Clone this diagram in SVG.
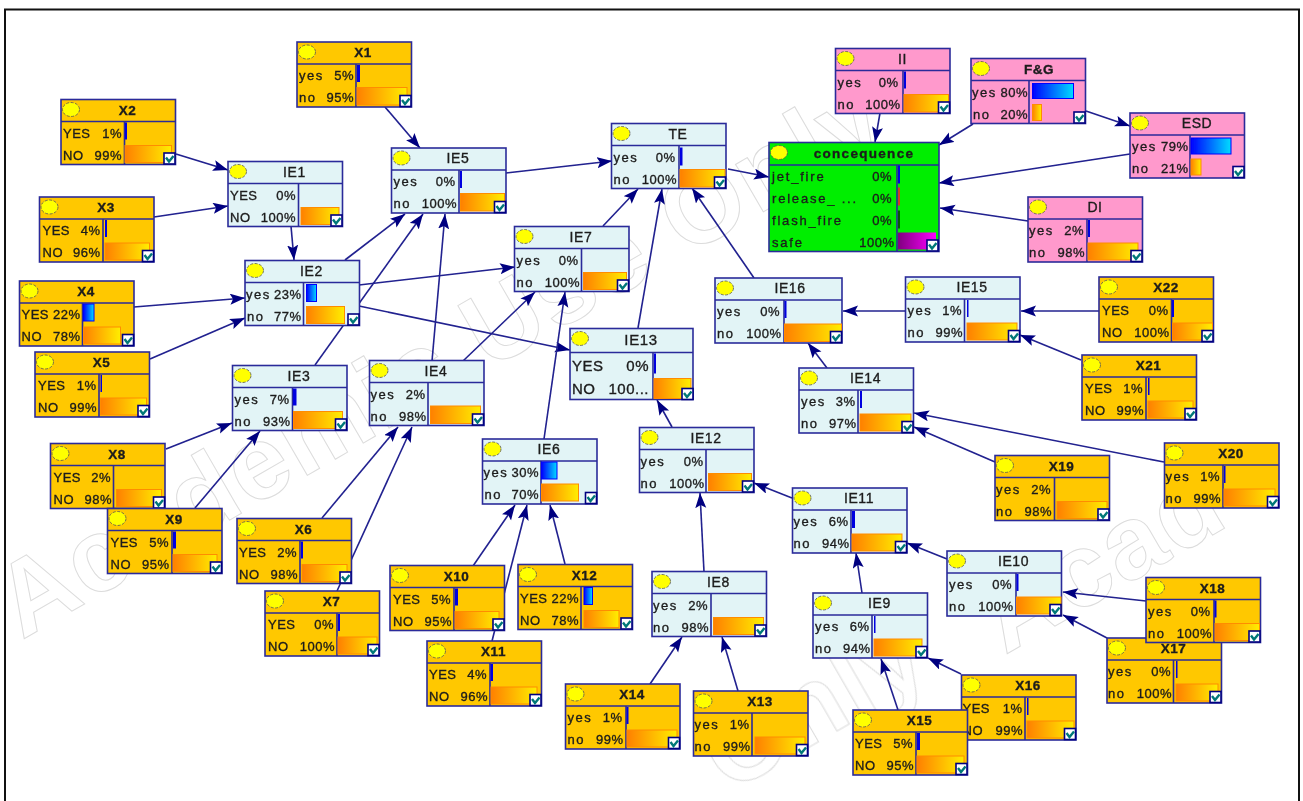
<svg xmlns="http://www.w3.org/2000/svg" width="1303" height="801" viewBox="0 0 1303 801">
<style>
text{font-family:"Liberation Sans",Arial,sans-serif;font-size:13px;fill:#1c1c1c;stroke:#1c1c1c;stroke-width:.35;letter-spacing:.5px}
.y{letter-spacing:1.5px}
.p{text-anchor:end}
.t{font-weight:bold;font-size:13.5px;text-anchor:middle}
.i{font-size:14px;text-anchor:middle;letter-spacing:.6px}
.b{stroke:#2a2a9a;stroke-width:1.6}
.o{fill:#ffc800}.e{fill:#e2f4f6}.k{fill:#ff99cc}.g{fill:#00ee00}
.lb{fill:#0000e0}
.bb{fill:url(#gb);stroke:#0000ff;stroke-width:1}
.ob{fill:url(#go);stroke:#ff8c00;stroke-width:1}
#edges line{stroke:#20208f;stroke-width:1.6;marker-end:url(#arr)}
.wm text{font-size:104px;font-weight:bold;fill:none;stroke:#dcdcdc;stroke-width:1;letter-spacing:2px}
</style>
<defs>
<linearGradient id="go"><stop offset="0" stop-color="#ff8000"/><stop offset="1" stop-color="#ffee00"/></linearGradient>
<linearGradient id="gb"><stop offset="0" stop-color="#0000ff"/><stop offset="1" stop-color="#00ddff"/></linearGradient>
<linearGradient id="gp"><stop offset="0" stop-color="#800080"/><stop offset="1" stop-color="#ff00ff"/></linearGradient>
<marker id="arr" markerUnits="userSpaceOnUse" markerWidth="16" markerHeight="12" refX="15" refY="5.500" orient="auto"><path d="M0 0L15 5.500L0 11L3 5.500z" fill="#000080"/></marker>
<filter id="soft" filterUnits="userSpaceOnUse" x="0" y="0" width="1303" height="801"><feGaussianBlur stdDeviation="0.45"/></filter>
<g id="ind"><ellipse cx="10" cy="10" rx="8.500" ry="7" fill="#ffff00" stroke="#555" stroke-width=".8" stroke-dasharray="3 1.500"/></g>
<g id="chk"><rect x="0" y="0" width="11" height="11" fill="#fff" stroke="#000080" stroke-width="1.600"/><path d="M2 4.500L5 8.500L9.500 3" fill="none" stroke="#007878" stroke-width="2.400"/></g>
<g id="fo"><rect class="o b" width="114.500" height="65"/><path class="b" d="M0 22H114.500" fill="none"/><use href="#ind"/></g>
<g id="fe"><rect class="e b" width="114.500" height="65"/><path class="b" d="M0 22H114.500" fill="none"/><use href="#ind"/></g>
<g id="fk"><rect class="k b" width="114.500" height="65"/><path class="b" d="M0 22H114.500" fill="none"/><use href="#ind"/></g>
<use id="c" href="#chk" x="103" y="53.500"/>
</defs>
<rect width="1303" height="801" fill="#fff"/>
<path d="M5 801V9.500H1299V801" fill="none" stroke="#111" stroke-width="2"/>
<g filter="url(#soft)">
<g class="wm">
<text transform="translate(22,640) rotate(-30)">Academic Use Only</text>
<text transform="translate(728,794) rotate(-30)">Only</text>
<text transform="translate(1005,655) rotate(-30)">Acad</text>
</g>
<g id="edges">
<line x1="385" y1="107" x2="420" y2="148"/>
<line x1="176" y1="154" x2="228" y2="170"/>
<line x1="154" y1="217" x2="228" y2="206"/>
<line x1="291" y1="226" x2="294" y2="260"/>
<line x1="345" y1="260" x2="405" y2="214"/>
<line x1="359" y1="285" x2="515" y2="267"/>
<line x1="359" y1="306" x2="570" y2="350"/>
<line x1="315" y1="365" x2="423" y2="214"/>
<line x1="432" y1="361" x2="445" y2="214"/>
<line x1="463" y1="361" x2="535" y2="292"/>
<line x1="544" y1="439" x2="565" y2="292"/>
<line x1="638" y1="328" x2="662" y2="189"/>
<line x1="603" y1="226" x2="638" y2="189"/>
<line x1="754" y1="278" x2="692" y2="188"/>
<line x1="506" y1="173" x2="612" y2="161"/>
<line x1="728" y1="169" x2="769" y2="177"/>
<line x1="880" y1="113" x2="875" y2="142"/>
<line x1="973" y1="124" x2="939" y2="145"/>
<line x1="1086" y1="111" x2="1130" y2="126"/>
<line x1="1130" y1="154" x2="939" y2="183"/>
<line x1="1028" y1="221" x2="940" y2="208"/>
<line x1="134" y1="307" x2="245" y2="298"/>
<line x1="150" y1="359" x2="245" y2="318"/>
<line x1="166" y1="449" x2="232" y2="423"/>
<line x1="195" y1="508" x2="260" y2="431"/>
<line x1="322" y1="518" x2="398" y2="427"/>
<line x1="337" y1="591" x2="412" y2="427"/>
<line x1="473" y1="566" x2="515" y2="505"/>
<line x1="492" y1="641" x2="527" y2="505"/>
<line x1="565" y1="564" x2="550" y2="505"/>
<line x1="704" y1="572" x2="700" y2="493"/>
<line x1="650" y1="684" x2="682" y2="637"/>
<line x1="738" y1="691" x2="722" y2="637"/>
<line x1="792" y1="498" x2="754" y2="483"/>
<line x1="906" y1="311" x2="843" y2="311"/>
<line x1="1099" y1="311" x2="1021" y2="311"/>
<line x1="1081" y1="360" x2="1020" y2="335"/>
<line x1="827" y1="368" x2="808" y2="343"/>
<line x1="1164" y1="462" x2="914" y2="413"/>
<line x1="995" y1="462" x2="914" y2="427"/>
<line x1="947" y1="559" x2="907" y2="543"/>
<line x1="862" y1="593" x2="856" y2="553"/>
<line x1="961" y1="674" x2="928" y2="658"/>
<line x1="898" y1="710" x2="881" y2="659"/>
<line x1="1146" y1="601" x2="1063" y2="592"/>
<line x1="1107" y1="638" x2="1063" y2="615"/>
<line x1="672" y1="427" x2="657" y2="400"/>
</g>
<g id="X1" transform="translate(297,42)"><use href="#fo"/><path class="b" d="M59 22V65"/><rect class="lb" x="60" y="23" width="3" height="17"/><rect class="ob" x="60" y="45.500" width="50" height="17.500"/><use href="#c"/><text class="t" x="66" y="15">X1</text><text y="38"><tspan class="y" x="2">yes</tspan> <tspan class="p" x="57">5%</tspan></text><text y="60"><tspan class="y" x="2">no</tspan> <tspan class="p" x="57">95%</tspan></text></g>
<g id="X2" transform="translate(61,99.500)"><use href="#fo"/><path class="b" d="M63.500 22V65"/><rect class="lb" x="64" y="23" width="2" height="17"/><rect class="ob" x="64" y="46" width="46.500" height="17"/><use href="#c"/><text class="t" x="66.500" y="15">X2</text><text y="38"><tspan x="2">YES</tspan> <tspan class="p" x="61">1%</tspan></text><text y="60"><tspan x="2">NO</tspan> <tspan class="p" x="61">99%</tspan></text></g>
<g id="X3" transform="translate(39.500,197)"><use href="#fo"/><path class="b" d="M63.500 22V65"/><rect class="lb" x="65.500" y="23" width="2" height="17"/><rect class="ob" x="65.500" y="46" width="44.500" height="17"/><use href="#c"/><text class="t" x="66.500" y="15">X3</text><text y="38"><tspan x="3">YES</tspan> <tspan class="p" x="61">4%</tspan></text><text y="60"><tspan x="3">NO</tspan> <tspan class="p" x="61">96%</tspan></text></g>
<g id="IE1" transform="translate(228,161.500)"><use href="#fe"/><path class="b" d="M70.500 22V65"/><rect class="ob" x="73" y="46" width="38" height="17"/><use href="#c"/><text class="i" x="66.500" y="15">IE1</text><text y="38"><tspan x="2">YES</tspan> <tspan class="p" x="68">0%</tspan></text><text y="60"><tspan x="2">NO</tspan> <tspan class="p" x="68">100%</tspan></text></g>
<g id="IE5" transform="translate(391.500,148)"><use href="#fe"/><path class="b" d="M67.500 22V65"/><rect class="lb" x="68.500" y="23" width="2" height="17"/><rect class="ob" x="69" y="45.500" width="44" height="17.500"/><use href="#c"/><text class="i" x="66.500" y="15">IE5</text><text y="38"><tspan class="y" x="2">yes</tspan> <tspan class="p" x="64">0%</tspan></text><text y="60"><tspan class="y" x="2">no</tspan> <tspan class="p" x="65.500">100%</tspan></text></g>
<g id="TE" transform="translate(611.500,123.500)"><use href="#fe"/><path class="b" d="M67.500 22V65"/><rect class="lb" x="68.500" y="24" width="2.500" height="18"/><rect class="ob" x="68.500" y="46" width="45" height="17.500"/><use href="#c"/><text class="i" x="66.500" y="15">TE</text><text y="38"><tspan class="y" x="2">yes</tspan> <tspan class="p" x="64">0%</tspan></text><text y="60"><tspan class="y" x="2">no</tspan> <tspan class="p" x="65.500">100%</tspan></text></g>
<g id="IE7" transform="translate(514.500,226.500)"><use href="#fe"/><path class="b" d="M67 22V65"/><rect class="ob" x="69" y="46" width="43" height="17"/><use href="#c"/><text class="i" x="66.500" y="15">IE7</text><text y="38"><tspan class="y" x="2">yes</tspan> <tspan class="p" x="64">0%</tspan></text><text y="60"><tspan class="y" x="2">no</tspan> <tspan class="p" x="65.500">100%</tspan></text></g>
<g id="IE2" transform="translate(245,260.500)"><use href="#fe"/><path class="b" d="M58.500 22V65"/><rect class="bb" x="61.500" y="24" width="10" height="17"/><rect class="ob" x="61.500" y="46" width="38" height="17"/><use href="#c"/><text class="i" x="66.500" y="15">IE2</text><text y="38"><tspan class="y" x="1">yes</tspan><tspan class="p" x="56.500">23%</tspan></text><text y="60"><tspan class="y" x="2">no</tspan> <tspan class="p" x="56.500">77%</tspan></text></g>
<g id="X4" transform="translate(19.500,281)"><use href="#fo"/><path class="b" d="M63 22V65"/><rect class="bb" x="64" y="23" width="10.500" height="17"/><rect class="ob" x="64" y="46" width="37" height="17"/><use href="#c"/><text class="t" x="66.500" y="15">X4</text><text y="38"><tspan x="2">YES</tspan> <tspan class="p" x="61">22%</tspan></text><text y="60"><tspan x="2">NO</tspan> <tspan class="p" x="61">78%</tspan></text></g>
<g id="X5" transform="translate(35,352)"><use href="#fo"/><path class="b" d="M64 22V65"/><rect class="lb" x="65.500" y="23" width="1.500" height="17"/><rect class="ob" x="65.500" y="46" width="46" height="17"/><use href="#c"/><text class="t" x="66.500" y="15">X5</text><text y="38"><tspan x="3">YES</tspan> <tspan class="p" x="61.500">1%</tspan></text><text y="60"><tspan x="3">NO</tspan> <tspan class="p" x="62">99%</tspan></text></g>
<g id="IE3" transform="translate(232.500,365.500)"><use href="#fe"/><path class="b" d="M60 22V65"/><rect class="lb" x="60.500" y="23" width="3.500" height="17"/><rect class="ob" x="61" y="46" width="49" height="17"/><use href="#c"/><text class="i" x="66.500" y="15">IE3</text><text y="38"><tspan class="y" x="2">yes</tspan> <tspan class="p" x="57">7%</tspan></text><text y="60"><tspan class="y" x="2">no</tspan> <tspan class="p" x="58">93%</tspan></text></g>
<g id="IE4" transform="translate(369.500,360.500)"><use href="#fe"/><path class="b" d="M58.500 22V65"/><rect class="ob" x="61" y="45.500" width="50" height="17.500"/><use href="#c"/><text class="i" x="66.500" y="15">IE4</text><text y="38"><tspan class="y" x="1">yes</tspan> <tspan class="p" x="56">2%</tspan></text><text y="60"><tspan class="y" x="1">no</tspan> <tspan class="p" x="57">98%</tspan></text></g>
<g id="X8" transform="translate(50.500,443.500)"><use href="#fo"/><path class="b" d="M63 22V65"/><rect class="ob" x="66" y="46" width="45" height="17"/><use href="#c"/><text class="t" x="66.500" y="15">X8</text><text y="38"><tspan x="3">YES</tspan> <tspan class="p" x="60.500">2%</tspan></text><text y="60"><tspan x="3">NO</tspan> <tspan class="p" x="61.500">98%</tspan></text></g>
<g id="X9" transform="translate(107.500,508.500)"><use href="#fo"/><path class="b" d="M64.500 22V65"/><rect class="lb" x="65.500" y="23" width="3" height="17"/><rect class="ob" x="65.500" y="46" width="44" height="17"/><use href="#c"/><text class="t" x="66.500" y="15">X9</text><text y="38"><tspan x="3">YES</tspan> <tspan class="p" x="61.500">5%</tspan></text><text y="60"><tspan x="3">NO</tspan> <tspan class="p" x="62">95%</tspan></text></g>
<g id="X6" transform="translate(237,518.500)"><use href="#fo"/><path class="b" d="M63 22V65"/><rect class="lb" x="64" y="23" width="2" height="17"/><rect class="ob" x="65" y="46" width="45" height="17"/><use href="#c"/><text class="t" x="66.500" y="15">X6</text><text y="38"><tspan x="2">YES</tspan> <tspan class="p" x="60">2%</tspan></text><text y="60"><tspan x="2">NO</tspan> <tspan class="p" x="61">98%</tspan></text></g>
<g id="X7" transform="translate(265,591)"><use href="#fo"/><path class="b" d="M72 22V65"/><rect class="lb" x="73" y="23" width="2" height="17"/><rect class="ob" x="73" y="46" width="39" height="17"/><use href="#c"/><text class="t" x="66.500" y="15">X7</text><text y="38"><tspan x="3">YES</tspan> <tspan class="p" x="69">0%</tspan></text><text y="60"><tspan x="3">NO</tspan> <tspan class="p" x="70">100%</tspan></text></g>
<g id="IE6" transform="translate(482.500,439)"><use href="#fe"/><path class="b" d="M58.500 22V65"/><rect class="bb" x="59" y="23" width="15.500" height="17"/><rect class="ob" x="59" y="45" width="37" height="17"/><use href="#c"/><text class="i" x="66.500" y="15">IE6</text><text y="38"><tspan class="y" x="1">yes</tspan><tspan class="p" x="56.500">30%</tspan></text><text y="60"><tspan class="y" x="2">no</tspan> <tspan class="p" x="56.500">70%</tspan></text></g>
<g id="IE12" transform="translate(639.500,427.500)"><use href="#fe"/><path class="b" d="M66.500 22V65"/><rect class="ob" x="69" y="46" width="43" height="17"/><use href="#c"/><text class="i" x="66.500" y="15">IE12</text><text y="38"><tspan class="y" x="1">yes</tspan> <tspan class="p" x="64">0%</tspan></text><text y="60"><tspan class="y" x="1">no</tspan> <tspan class="p" x="65">100%</tspan></text></g>
<g id="X10" transform="translate(390,565.500)"><use href="#fo"/><path class="b" d="M64 22V65"/><rect class="lb" x="65" y="23" width="3" height="17"/><rect class="ob" x="65" y="46" width="44" height="17"/><use href="#c"/><text class="t" x="66.500" y="15">X10</text><text y="38"><tspan x="3">YES</tspan> <tspan class="p" x="61">5%</tspan></text><text y="60"><tspan x="3">NO</tspan> <tspan class="p" x="62">95%</tspan></text></g>
<g id="X11" transform="translate(427,641)"><use href="#fo"/><path class="b" d="M63 22V65"/><rect class="lb" x="63.500" y="23" width="2.500" height="17"/><rect class="ob" x="64" y="46" width="46" height="17"/><use href="#c"/><text class="t" x="66.500" y="15">X11</text><text y="38"><tspan x="2">YES</tspan> <tspan class="p" x="60">4%</tspan></text><text y="60"><tspan x="2">NO</tspan> <tspan class="p" x="61">96%</tspan></text></g>
<g id="X12" transform="translate(518,564.500)"><use href="#fo"/><path class="b" d="M63 22V65"/><rect class="bb" x="66" y="23" width="8.500" height="17"/><rect class="ob" x="66" y="46" width="35" height="17"/><use href="#c"/><text class="t" x="66.500" y="15">X12</text><text y="38"><tspan x="2">YES</tspan> <tspan class="p" x="61">22%</tspan></text><text y="60"><tspan x="2">NO</tspan> <tspan class="p" x="61">78%</tspan></text></g>
<g id="IE13" transform="translate(570,328.500)"><rect class="e b" width="123" height="71"/><path class="b" d="M0 24H123" fill="none"/><use href="#ind"/><path class="b" d="M83 24V71"/><rect class="lb" x="84" y="25" width="2" height="20"/><rect class="ob" x="84" y="50" width="37" height="20"/><use href="#chk" x="112" y="60"/><text class="i" style="font-size:15px" x="71" y="16">IE13</text><text style="font-size:15px" y="42"><tspan x="2">YES</tspan> <tspan class="p" x="79">0%</tspan></text><text style="font-size:15px" y="65"><tspan x="2">NO</tspan> <tspan class="p" x="79">100...</tspan></text></g>
<g id="IE8" transform="translate(652,571.500)"><use href="#fe"/><path class="b" d="M59 22V65"/><rect class="ob" x="61.500" y="46" width="50" height="17"/><use href="#c"/><text class="i" x="66.500" y="15">IE8</text><text y="38"><tspan class="y" x="1">yes</tspan> <tspan class="p" x="56">2%</tspan></text><text y="60"><tspan class="y" x="1">no</tspan> <tspan class="p" x="57">98%</tspan></text></g>
<g id="X14" transform="translate(565.500,684)"><use href="#fo"/><path class="b" d="M60.500 22V65"/><rect class="lb" x="61" y="23" width="2" height="17"/><rect class="ob" x="61.500" y="46" width="50" height="17"/><use href="#c"/><text class="t" x="66.500" y="15">X14</text><text y="38"><tspan class="y" x="2">yes</tspan> <tspan class="p" x="57">1%</tspan></text><text y="60"><tspan class="y" x="2">no</tspan> <tspan class="p" x="58">99%</tspan></text></g>
<g id="X13" transform="translate(693.500,691)"><use href="#fo"/><path class="b" d="M58.500 22V65"/><rect class="ob" x="61.500" y="46" width="50" height="17"/><use href="#c"/><text class="t" x="66.500" y="15">X13</text><text y="38"><tspan class="y" x="1">yes</tspan> <tspan class="p" x="56">1%</tspan></text><text y="60"><tspan class="y" x="1">no</tspan> <tspan class="p" x="57">99%</tspan></text></g>
<g id="IE11" transform="translate(792.500,488)"><use href="#fe"/><path class="b" d="M58.500 22V65"/><rect class="lb" x="59.500" y="23" width="3" height="17"/><rect class="ob" x="59.500" y="46" width="50" height="17"/><use href="#c"/><text class="i" x="66.500" y="15">IE11</text><text y="38"><tspan class="y" x="1">yes</tspan> <tspan class="p" x="56">6%</tspan></text><text y="60"><tspan class="y" x="1">no</tspan> <tspan class="p" x="57">94%</tspan></text></g>
<g id="IE16" transform="translate(715,278)"><rect class="e b" width="127" height="65"/><path class="b" d="M0 22H127" fill="none"/><use href="#ind"/><path class="b" d="M69 22V65"/><rect class="lb" x="69.500" y="23" width="2" height="17"/><rect class="ob" x="69.500" y="46" width="57" height="17.500"/><use href="#chk" x="115.500" y="53.500"/><text class="i" x="75" y="15">IE16</text><text y="38"><tspan class="y" x="2">yes</tspan> <tspan class="p" x="65">0%</tspan></text><text y="60"><tspan class="y" x="2">no</tspan> <tspan class="p" x="66.500">100%</tspan></text></g>
<g id="IE15" transform="translate(905.500,277)"><use href="#fe"/><path class="b" d="M59 22V65"/><rect class="lb" x="61.500" y="23" width="1.500" height="17"/><rect class="ob" x="61.500" y="46" width="50" height="17"/><use href="#c"/><text class="i" x="66.500" y="15">IE15</text><text y="38"><tspan class="y" x="2">yes</tspan> <tspan class="p" x="56.500">1%</tspan></text><text y="60"><tspan class="y" x="2">no</tspan> <tspan class="p" x="57.500">99%</tspan></text></g>
<g id="IE14" transform="translate(799,368)"><use href="#fe"/><path class="b" d="M59 22V65"/><rect class="lb" x="61" y="23" width="2" height="17"/><rect class="ob" x="61" y="46" width="51" height="17"/><use href="#c"/><text class="i" x="66.500" y="15">IE14</text><text y="38"><tspan class="y" x="2">yes</tspan> <tspan class="p" x="56.500">3%</tspan></text><text y="60"><tspan class="y" x="2">no</tspan> <tspan class="p" x="57.500">97%</tspan></text></g>
<g id="X22" transform="translate(1099,277)"><use href="#fo"/><path class="b" d="M72.500 22V65"/><rect class="lb" x="73" y="23" width="2" height="17"/><rect class="ob" x="73.500" y="46" width="40" height="17"/><use href="#c"/><text class="t" x="67" y="15">X22</text><text y="38"><tspan x="3">YES</tspan> <tspan class="p" x="69.500">0%</tspan></text><text y="60"><tspan x="3">NO</tspan> <tspan class="p" x="70.500">100%</tspan></text></g>
<g id="X21" transform="translate(1082,355)"><use href="#fo"/><path class="b" d="M64 22V65"/><rect class="lb" x="66" y="23" width="1.500" height="17"/><rect class="ob" x="66" y="46" width="45" height="17"/><use href="#c"/><text class="t" x="66.500" y="15">X21</text><text y="38"><tspan x="3">YES</tspan> <tspan class="p" x="61">1%</tspan></text><text y="60"><tspan x="3">NO</tspan> <tspan class="p" x="62">99%</tspan></text></g>
<g id="X20" transform="translate(1164.500,443)"><use href="#fo"/><path class="b" d="M58.500 22V65"/><rect class="lb" x="59.500" y="23" width="1.500" height="17"/><rect class="ob" x="59.500" y="46" width="51" height="17"/><use href="#c"/><text class="t" x="66.500" y="15">X20</text><text y="38"><tspan class="y" x="1">yes</tspan> <tspan class="p" x="55.500">1%</tspan></text><text y="60"><tspan class="y" x="1">no</tspan> <tspan class="p" x="56.500">99%</tspan></text></g>
<g id="X19" transform="translate(995,455.500)"><use href="#fo"/><path class="b" d="M59.500 22V65"/><rect class="ob" x="62" y="46" width="50" height="17"/><use href="#c"/><text class="t" x="66.500" y="15">X19</text><text y="38"><tspan class="y" x="1">yes</tspan> <tspan class="p" x="56">2%</tspan></text><text y="60"><tspan class="y" x="1">no</tspan> <tspan class="p" x="57">98%</tspan></text></g>
<g id="IE10" transform="translate(947,551)"><use href="#fe"/><path class="b" d="M69 22V65"/><rect class="lb" x="69.500" y="23" width="2" height="17"/><rect class="ob" x="69.500" y="46" width="44.500" height="17"/><use href="#c"/><text class="i" x="66.500" y="15">IE10</text><text y="38"><tspan class="y" x="2">yes</tspan> <tspan class="p" x="65">0%</tspan></text><text y="60"><tspan class="y" x="2">no</tspan> <tspan class="p" x="66.500">100%</tspan></text></g>
<g id="X17" transform="translate(1107,638)"><use href="#fo"/><path class="b" d="M66.500 22V65"/><rect class="lb" x="69" y="23" width="1.500" height="17"/><rect class="ob" x="69" y="46" width="42" height="17"/><use href="#c"/><text class="t" x="66.500" y="15">X17</text><text y="38"><tspan class="y" x="1">yes</tspan> <tspan class="p" x="64">0%</tspan></text><text y="60"><tspan class="y" x="1">no</tspan> <tspan class="p" x="65">100%</tspan></text></g>
<g id="X18" transform="translate(1146,577.500)"><use href="#fo"/><path class="b" d="M68 22V65"/><rect class="lb" x="68.500" y="23" width="2" height="17"/><rect class="ob" x="69" y="46" width="44.500" height="17"/><use href="#c"/><text class="t" x="66.500" y="15">X18</text><text y="38"><tspan class="y" x="2">yes</tspan> <tspan class="p" x="64.500">0%</tspan></text><text y="60"><tspan class="y" x="2">no</tspan> <tspan class="p" x="66">100%</tspan></text></g>
<g id="IE9" transform="translate(813,593)"><use href="#fe"/><path class="b" d="M59 22V65"/><rect class="lb" x="61" y="23" width="1.500" height="17"/><rect class="ob" x="61" y="46" width="48" height="17"/><use href="#c"/><text class="i" x="66.500" y="15">IE9</text><text y="38"><tspan class="y" x="2">yes</tspan> <tspan class="p" x="56.500">6%</tspan></text><text y="60"><tspan class="y" x="2">no</tspan> <tspan class="p" x="57.500">94%</tspan></text></g>
<g id="X16" transform="translate(961.500,675)"><use href="#fo"/><path class="b" d="M63.500 22V65"/><rect class="lb" x="65.500" y="23" width="1.500" height="17"/><rect class="ob" x="65.500" y="46" width="47" height="17"/><use href="#c"/><text class="t" x="66.500" y="15">X16</text><text y="38"><tspan x="1">YES</tspan> <tspan class="p" x="61">1%</tspan></text><text y="60"><tspan x="1">NO</tspan> <tspan class="p" x="61.500">99%</tspan></text></g>
<g id="X15" transform="translate(853,710)"><use href="#fo"/><path class="b" d="M63 22V65"/><rect class="lb" x="64" y="23" width="3" height="17"/><rect class="ob" x="64" y="46" width="47" height="17"/><use href="#c"/><text class="t" x="66.500" y="15">X15</text><text y="38"><tspan x="2">YES</tspan> <tspan class="p" x="60">5%</tspan></text><text y="60"><tspan x="2">NO</tspan> <tspan class="p" x="61">95%</tspan></text></g>
<g id="II" transform="translate(835.500,48.500)"><use href="#fk"/><path class="b" d="M67.500 22V65"/><rect class="lb" x="68.500" y="23" width="2" height="17"/><rect class="ob" x="68.500" y="46" width="44.500" height="17.500"/><use href="#c"/><text class="i" x="67" y="15">II</text><text y="38"><tspan class="y" x="2">yes</tspan> <tspan class="p" x="63">0%</tspan></text><text y="60"><tspan class="y" x="2">no</tspan> <tspan class="p" x="65">100%</tspan></text></g>
<g id="FG" transform="translate(971,58.500)"><use href="#fk"/><path class="b" d="M58 22V65"/><rect class="bb" x="61.500" y="25" width="41" height="15"/><rect class="ob" x="61.500" y="46" width="9" height="16"/><use href="#c"/><text class="t" x="68" y="15">F&amp;G</text><text y="38"><tspan class="y" x="1">yes</tspan><tspan class="p" x="57">80%</tspan></text><text y="60"><tspan class="y" x="2">no</tspan> <tspan class="p" x="57">20%</tspan></text></g>
<g id="ESD" transform="translate(1130,113)"><use href="#fk"/><path class="b" d="M60 22V65"/><rect class="bb" x="61" y="25" width="40" height="16"/><rect class="ob" x="61" y="46" width="10" height="16"/><use href="#c"/><text class="i" x="67" y="15">ESD</text><text y="38"><tspan class="y" x="2">yes</tspan><tspan class="p" x="58.500">79%</tspan></text><text y="60"><tspan class="y" x="2">no</tspan> <tspan class="p" x="58.500">21%</tspan></text></g>
<g id="DI" transform="translate(1028,197)"><use href="#fk"/><path class="b" d="M59 22V65"/><rect class="lb" x="60" y="23" width="2" height="17"/><rect class="ob" x="60" y="46" width="50" height="17"/><use href="#c"/><text class="i" x="67" y="15">DI</text><text y="38"><tspan class="y" x="1">yes</tspan> <tspan class="p" x="56">2%</tspan></text><text y="60"><tspan class="y" x="1">no</tspan> <tspan class="p" x="57">98%</tspan></text></g>
<g id="concequence" transform="translate(769,142.500)"><rect class="g b" width="170" height="109"/><path class="b" d="M0 22.500H170M128 22.500V109" fill="none"/><use href="#ind"/><rect fill="#0000e0" x="129" y="23" width="2" height="18"/><rect fill="#d04020" x="129" y="45" width="2" height="18"/><rect fill="#006000" x="129" y="68" width="2" height="18"/><rect fill="url(#gp)" x="129" y="90" width="38" height="17"/><use href="#chk" x="158" y="97.500"/><text class="t" style="letter-spacing:1.300px" x="95" y="15">concequence</text><text y="38"><tspan style="letter-spacing:1.800px" x="3">jet_fire</tspan> <tspan class="p" x="123">0%</tspan></text><text y="60"><tspan style="letter-spacing:1.800px" x="3">release_ ...</tspan> <tspan class="p" x="123">0%</tspan></text><text y="82"><tspan style="letter-spacing:1.800px" x="3">flash_fire</tspan> <tspan class="p" x="123">0%</tspan></text><text y="104"><tspan style="letter-spacing:1.800px" x="3">safe</tspan> <tspan class="p" x="125.500">100%</tspan></text></g>
</g>
</svg>
